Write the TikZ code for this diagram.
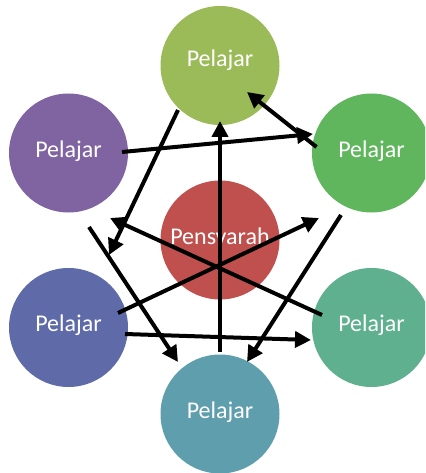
\documentclass[tikz,border=0pt]{standalone}
\usepackage{fontspec}
\setmainfont{Carlito}
\usetikzlibrary{arrows.meta}
\definecolor{cTop}{HTML}{9BBB59}
\definecolor{cPL}{HTML}{8064A2}
\definecolor{cPR}{HTML}{5FB65C}
\definecolor{cC}{HTML}{C0504D}
\definecolor{cBL}{HTML}{5F6BA8}
\definecolor{cBR}{HTML}{5EB08E}
\definecolor{cBot}{HTML}{5F9EAD}
\tikzset{
  ball/.style={circle, minimum size=119pt, inner sep=0pt},
  lbl/.style={text=white, font=\fontsize{24}{26}\selectfont, inner sep=0pt, yshift=2pt},
  arr/.style={line width=4pt, -{Triangle[length=16pt,width=16pt]}}
}
\begin{document}
\begin{tikzpicture}[x=1pt,y=-1pt]
\useasboundingbox (0,0) rectangle (425,473);
\clip (0,0) rectangle (425,473);
\node[ball, fill=cTop, label={[lbl, yshift=3pt]center:Pelajar}] (top) at (220,65.5) {};
\node[ball, fill=cPL, label={[lbl]center:Pelajar}] (pl) at (68.5,153) {};
\node[ball, fill=cPR, label={[lbl]center:Pelajar}] (pr) at (371.5,153) {};
\node[ball, fill=cC, label={[lbl]center:Pensyarah}] (c) at (220,240) {};
\node[ball, fill=cBL, label={[lbl]center:Pelajar}] (bl) at (68.5,327.5) {};
\node[ball, fill=cBR, label={[lbl]center:Pelajar}] (br) at (371.5,327.5) {};
\node[ball, fill=cBot, label={[lbl]center:Pelajar}] (bot) at (220,414) {};
% arrow end points
\coordinate (a1s) at (220,352); \coordinate (a1e) at (220,121);
\coordinate (a2s) at (316.5,147); \coordinate (a2e) at (247,92);
\coordinate (a3s) at (122,152); \coordinate (a3e) at (313,134);
\coordinate (a4s) at (178,110); \coordinate (a4e) at (109,255);
\coordinate (a5s) at (322,315); \coordinate (a5e) at (110,218);
\coordinate (a6s) at (118,313); \coordinate (a6e) at (319,218);
\coordinate (a7s) at (341,215); \coordinate (a7e) at (247,362);
\coordinate (a8s) at (125,334); \coordinate (a8e) at (311,340);
\coordinate (a9s) at (89,227); \coordinate (a9e) at (178,362);
\draw[arr] (a1s) -- (a1e);
\draw[arr] (a2s) -- (a2e);
\draw[arr] (a3s) -- (a3e);
\draw[arr] (a4s) -- (a4e);
\draw[arr] (a5s) -- (a5e);
\draw[arr] (a6s) -- (a6e);
\draw[arr] (a7s) -- (a7e);
\draw[arr] (a8s) -- (a8e);
\draw[arr] (a9s) -- (a9e);
\end{tikzpicture}
\end{document}
